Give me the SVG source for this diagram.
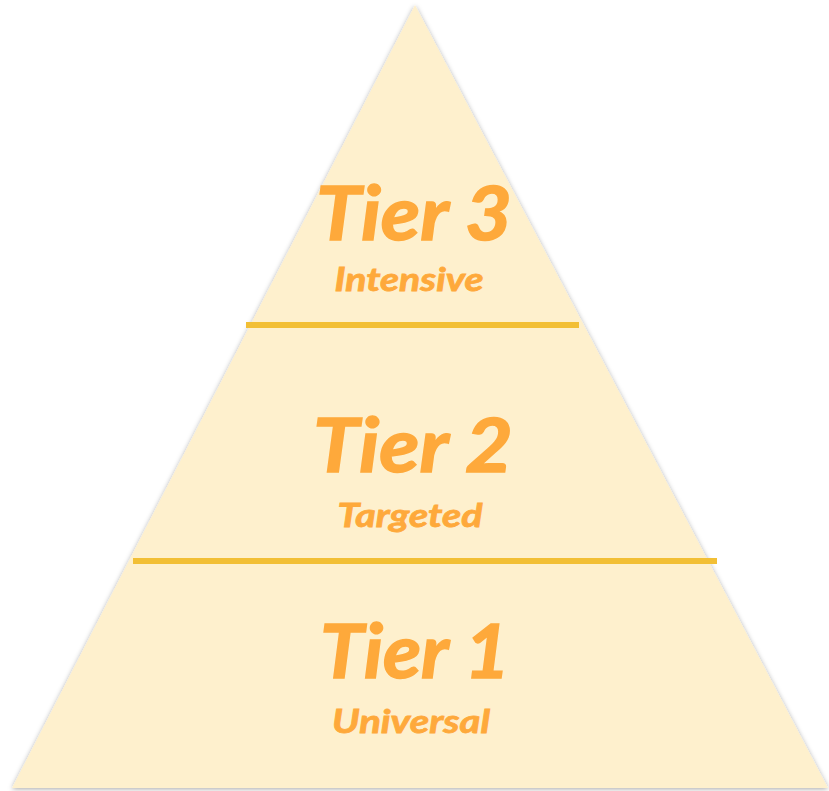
<svg xmlns="http://www.w3.org/2000/svg" width="829" height="791" viewBox="0 0 829 791">
  <defs>
    <filter id="soft-shadow" x="-5%" y="-5%" width="110%" height="110%">
      <feDropShadow dx="0" dy="1" stdDeviation="2.5" flood-color="#000000" flood-opacity="0.35"/>
    </filter>
    <style>
      .tier { fill: #FEA93B; stroke: #FEA93B; font-family: Lato, "Open Sans", "Liberation Sans", sans-serif; font-weight: 700; font-style: italic; text-anchor: middle; }
      .title { font-size: 75px; stroke-width: 1.5; }
      .sub { font-size: 32px; stroke-width: 0.8; }
      .divider { stroke: #F2BF35; stroke-width: 6; }
    </style>
  </defs>
  <rect width="829" height="791" fill="#FFFFFF"/>
  <!-- pyramid body -->
  <g id="pyramid">
    <polygon points="415,5 12,788 828,788" fill="#FEF0CD" filter="url(#soft-shadow)"/>
  </g>
  <!-- tier dividers -->
  <g id="connectors">
    <line class="divider" x1="246" y1="325" x2="579" y2="325"/>
    <line class="divider" x1="133" y1="561" x2="717" y2="561"/>
  </g>
  <g id="tier3">
    <text class="tier title" x="414" y="240" textLength="196" lengthAdjust="spacingAndGlyphs">Tier 3</text>
    <text class="tier sub" x="409" y="291" textLength="149" lengthAdjust="spacingAndGlyphs">Intensive</text>
  </g>
  <g id="tier2">
    <text class="tier title" x="413" y="472" textLength="200" lengthAdjust="spacingAndGlyphs">Tier 2</text>
    <text class="tier sub" x="410" y="527" textLength="145" lengthAdjust="spacingAndGlyphs">Targeted</text>
  </g>
  <g id="tier1">
    <text class="tier title" x="415" y="678" textLength="190" lengthAdjust="spacingAndGlyphs">Tier 1</text>
    <text class="tier sub" x="411" y="733" textLength="158" lengthAdjust="spacingAndGlyphs">Universal</text>
  </g>
</svg>
